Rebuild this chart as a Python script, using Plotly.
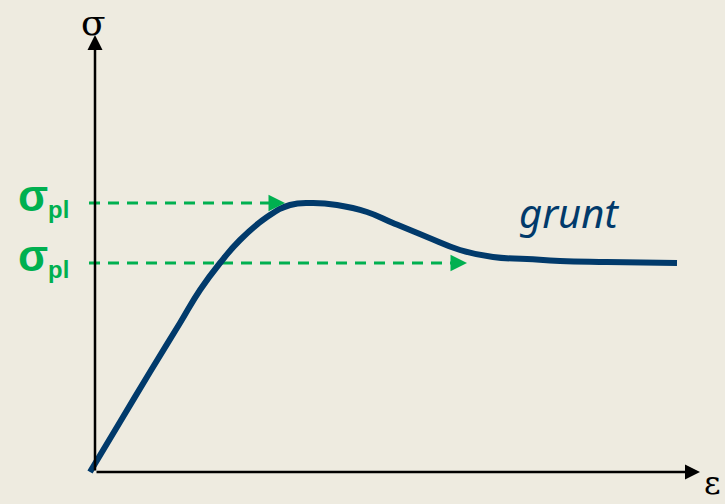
import plotly.graph_objects as go

# Strain (epsilon) and stress (sigma) values of the soil curve, arbitrary units
eps = [-0.05, 0.25, 0.55, 0.85, 1.05, 1.25, 1.45, 1.72, 1.95, 2.18, 2.42, 2.72,
       2.98, 3.32, 3.65, 3.98, 4.32, 4.65, 5.12, 5.82]
sigma = [0.00, 0.50, 1.00, 1.49, 1.82, 2.09, 2.32, 2.55, 2.67, 2.69, 2.67, 2.60,
         2.49, 2.35, 2.22, 2.15, 2.13, 2.11, 2.10, 2.09]

# plastic stress levels and where the dashed arrows end
sigma_pl = [2.69, 2.09]
arrow_end = [1.90, 3.72]
dash_start = -0.06

axis_x_end = 6.05
axis_y_end = 4.37

bg = "#EEEBE0"
navy = "#013A6B"
green = "#00B050"

fig = go.Figure()

# dashed green lines
for s, e in zip(sigma_pl, arrow_end):
    fig.add_trace(go.Scatter(x=[dash_start, e - 0.12], y=[s, s], mode="lines",
                             line=dict(color=green, width=3, dash="11px,8px"),
                             hoverinfo="skip", showlegend=False))

# curve
fig.add_trace(go.Scatter(x=eps, y=sigma, mode="lines",
                         line=dict(color=navy, width=6, shape="spline", smoothing=1.3),
                         hoverinfo="skip", showlegend=False))

ann = []
# axes with arrows
ann.append(dict(x=0, y=axis_y_end, ax=0, ay=0, xref="x", yref="y", axref="x", ayref="y",
                showarrow=True, arrowhead=2, arrowwidth=2.5, arrowsize=1.2,
                arrowcolor="black", text=""))
ann.append(dict(x=axis_x_end, y=0, ax=0, ay=0, xref="x", yref="y", axref="x", ayref="y",
                showarrow=True, arrowhead=2, arrowwidth=2.5, arrowsize=1.2,
                arrowcolor="black", text=""))
# green arrow heads
for s, e in zip(sigma_pl, arrow_end):
    ann.append(dict(x=e, y=s, ax=e - 0.15, ay=s, xref="x", yref="y", axref="x", ayref="y",
                    showarrow=True, arrowhead=2, arrowwidth=3, arrowsize=1.1,
                    arrowcolor=green, text=""))
# labels
ann.append(dict(x=0.5 * (95 - 2) / 725 + 0.5 * (95 - 2) / 725, y=1.0, xref="paper", yref="paper",
                yanchor="top", xanchor="center", text="σ", showarrow=False,
                font=dict(family="DejaVu Serif", size=36, color="black")))
ann.append(dict(x=712 / 725, y=0.0, xref="paper", yref="paper",
                yanchor="bottom", xanchor="center", text="ε", showarrow=False,
                font=dict(family="DejaVu Serif", size=32, color="black")))
for s in sigma_pl:
    ann.append(dict(x=-0.79, y=s + 0.06, xref="x", yref="y", xanchor="left",
                    text="<b><span style='font-size:44px'>σ</span><sub>pl</sub></b>",
                    showarrow=False,
                    font=dict(family="Liberation Sans", size=34, color=green)))
ann.append(dict(x=4.74, y=2.60, xref="x", yref="y", text="<i>grunt</i>", showarrow=False,
                font=dict(family="Noto Sans", size=40, color=navy)))

fig.update_layout(
    width=725, height=504,
    margin=dict(l=0, r=0, t=0, b=0),
    paper_bgcolor=bg, plot_bgcolor=bg,
    xaxis=dict(range=[-0.95, 6.30], visible=False, fixedrange=True),
    yaxis=dict(range=[-0.32, 4.72], visible=False, fixedrange=True),
    annotations=ann,
    showlegend=False,
)

fig.write_html("out.html", config={"displayModeBar": False},
               post_script="document.body.style.margin='0';document.body.style.background='#EEEBE0';")
